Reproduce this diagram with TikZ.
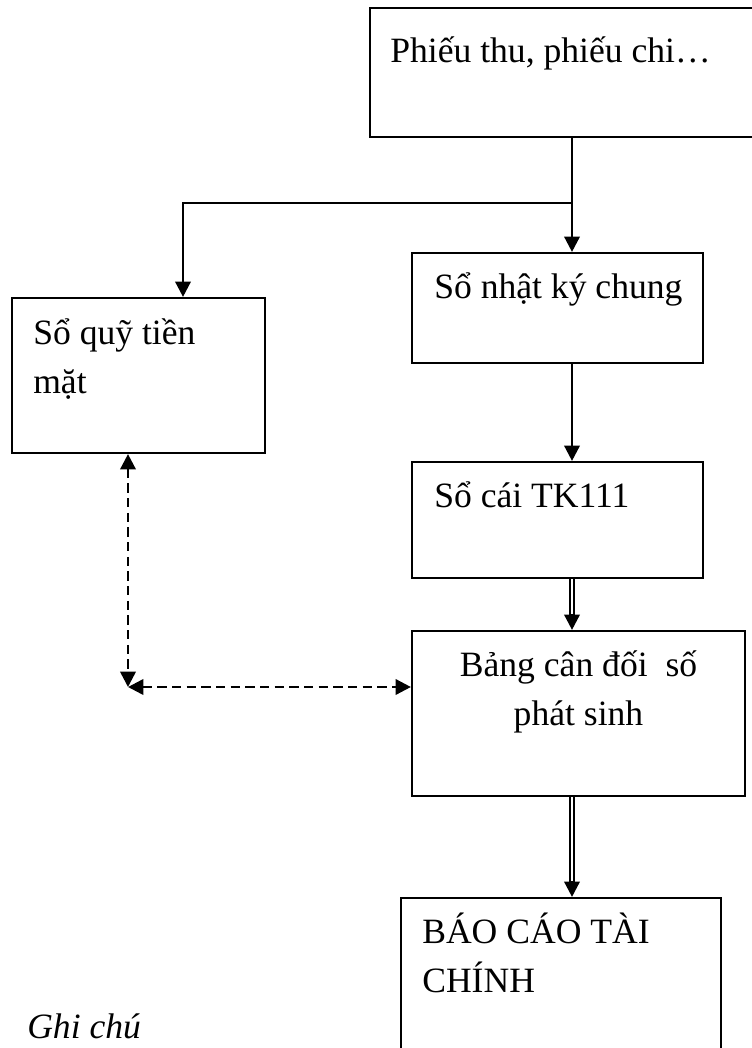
\documentclass[tikz,border=0pt]{standalone}
\usepackage{fontspec}
\setmainfont{Liberation Serif}
\usetikzlibrary{arrows.meta,fit}
\begin{document}
\begin{tikzpicture}[x=0.75pt,y=-0.75pt,
  box/.style={draw, rectangle, line width=1.6pt, inner sep=0pt},
  txt/.style={inner sep=0pt, anchor=base west, align=left,
              font=\fontsize{26.7pt}{36.75pt}\selectfont},
  tip/.style={-{Triangle[length=11.5pt,width=11.5pt]}},
  flow/.style={tip, line width=1.9pt},
  dbl/.style={double, double distance=2.2pt, line width=1.3pt, shorten >=10pt},
  dflow/.style={{Triangle[length=11.5pt,width=11.5pt]}-{Triangle[length=11.5pt,width=11.5pt]},
                line width=1.9pt, dash pattern=on 7pt off 4pt}
]
\useasboundingbox (0,0) rectangle (752,1048);

% boxes
\node[box, fit={(370,8) (756,137)}]   (phieu) {};
\node[box, fit={(412,253) (703,363)}] (nkc) {};
\node[box, fit={(12,298) (265,453)}]  (quy) {};
\node[box, fit={(412,462) (703,578)}] (cai) {};
\node[box, fit={(412,631) (745,796)}] (bang) {};
\node[box, fit={(401,898) (721,1056)}] (bctc) {};

% box texts (multi-line nodes sit on the baseline of their last line)
\node[txt] (tphieu) at (390,63)  {Phiếu thu, phiếu chi…};
\node[txt] (tnkc)   at (434,299) {Sổ nhật ký chung};
\node[txt] (tquy)   at (33,393)  {Sổ quỹ tiền\\mặt};
\node[txt] (tcai)   at (434,507) {Sổ cái TK111};
\node[txt, anchor=base, align=center] (tbang) at (578.5,725) {Bảng cân đối\ \ số\\phát sinh};
\node[txt] (tbctc)  at (422,992) {BÁO CÁO TÀI\\CHÍNH};
\node[txt] (note)   at (27,1038) {\itshape Ghi chú};

% helper coordinates
\coordinate (spine) at (572,0);
\coordinate (qx) at (183,0);
\coordinate (j) at (572,203);
\coordinate (corner) at (128,687);

% solid flow
\draw[flow] (phieu.south -| spine) -- (nkc.north -| spine);
\draw[flow] (j) -| (quy.north -| qx);
\draw[flow] (nkc.south -| spine) -- (cai.north -| spine);

% double flows
\coordinate (bin) at (bang.north -| spine);
\coordinate (rin) at (bctc.north -| spine);
\draw[dbl] (cai.south -| spine) -- (bin);
\draw[flow] ([yshift=12pt]bin) -- (bin);
\draw[dbl] (bang.south -| spine) -- (rin);
\draw[flow] ([yshift=12pt]rin) -- (rin);

% dashed cross-checks
\draw[dflow] (quy.south -| corner) -- (corner);
\draw[dflow] (corner) -- (bang.west |- corner);
\end{tikzpicture}
\end{document}
